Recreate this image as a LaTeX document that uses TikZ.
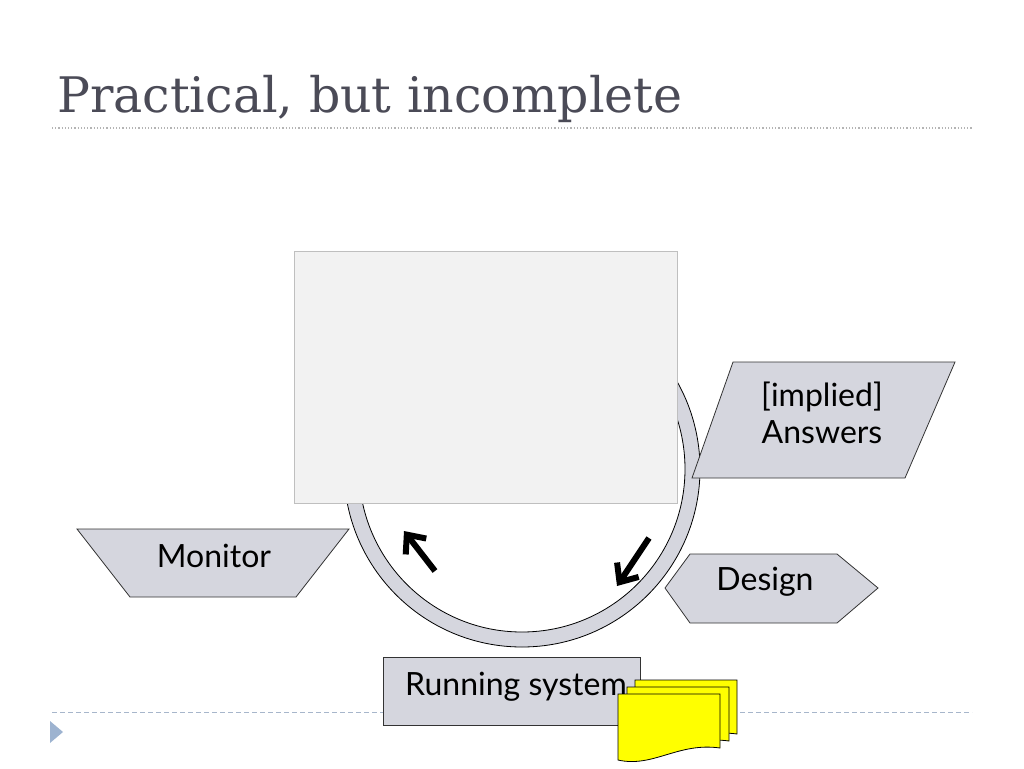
\documentclass[tikz,border=0pt]{standalone}
\usepackage{fontspec}
\setmainfont{Lato}
\newfontfamily\titlefont{DejaVu Serif}
\usetikzlibrary{arrows.meta}

\definecolor{shapegray}{HTML}{D5D6DE}
\definecolor{titlegray}{HTML}{4B4B57}
\definecolor{panelgray}{HTML}{F2F2F2}
\definecolor{rulegray}{HTML}{B4B4B4}
\definecolor{ruleblue}{HTML}{A7B6CB}
\definecolor{bulletblue}{HTML}{9DB3D0}
\definecolor{docyellow}{HTML}{FFFF00}

\begin{document}
\begin{tikzpicture}[x=1pt,y=-1pt,
	shapebox/.style={draw=black!80,fill=shapegray,line width=0.8pt},
	label/.style={font=\fontsize{32}{37}\selectfont,inner sep=0pt},
	turn/.style={line width=6pt,-{Straight Barb[length=15pt,width=26pt]}},
	page/.style={draw=black,fill=docyellow,line width=0.8pt}]
	\useasboundingbox (0,0) rectangle (1024,768);

	% title and rules
	\node[anchor=base west,inner sep=0pt,text=titlegray,font=\titlefont\fontsize{49}{54}\selectfont] (title) at (57,112) {Practical, but incomplete};
	\coordinate (t1) at (52,128);
	\coordinate (t2) at (972,128);
	\draw[rulegray,line width=1.2pt,dash pattern=on 1.2pt off 2pt] (t1) -- (t2);
	\coordinate (b1) at (52,712);
	\coordinate (b2) at (972,712);
	\draw[ruleblue,line width=1pt,dash pattern=on 5pt off 3pt] (b1) -- (b2);
	\fill[bulletblue] (50,721) -- (63,732) -- (50,743) -- cycle;

	% ring
	\coordinate (c) at (522,469);
	\draw[shapebox,draw=black,even odd rule] (c) circle[radius=178pt] (c) circle[radius=163pt];

	% panel
	\draw[fill=panelgray,draw=black!25,line width=0.8pt] (294,251) rectangle (677,503);

	% shapes
	\draw[shapebox] (77,529) -- (349,529) -- (296,597) -- (130,597) -- cycle;
	\node[label,anchor=base] (monitor) at (214,567) {Monitor};

	\draw[shapebox] (733,362) -- (955,362) -- (905,478) -- (692,478) -- cycle;
	\node[label,align=center] (answers) at (822,413) {[implied]\\Answers};

	\draw[shapebox] (665,588) -- (690,554) -- (837,554) -- (878,588) -- (837,623) -- (690,623) -- cycle;
	\node[label,anchor=base] (design) at (765,590) {Design};

	\draw[shapebox] (383,657) rectangle (640,725);
	\node[label,anchor=base west] (running) at (405,695) {Running system};

	% documents
	\foreach \dx/\dy in {17/-14,9/-7,0/0}
	{
		\draw[page,shift={(618+\dx,694+\dy)}] (0,0) -- (102,0) -- (102,54)
		.. controls (60,48) and (35,74) .. (0,66) -- cycle;
	}

	% arrows
	\coordinate (a1) at (435,571);
	\coordinate (a2) at (404,531);
	\coordinate (a3) at (649,538);
	\coordinate (a4) at (617,586);
	\draw[turn] (a1) -- (a2);
	\draw[turn] (a3) -- (a4);
\end{tikzpicture}
\end{document}
